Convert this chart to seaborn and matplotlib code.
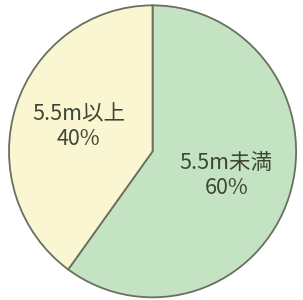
import matplotlib
matplotlib.use("Agg")
import matplotlib.pyplot as plt
import seaborn as sns

LABELS = ["5.5m未満", "5.5m以上"]
SHARES = [60, 40]
COLORS = ["#c4e3c3", "#faf6d2"]

sns.set_theme(style="white")
plt.rcParams["font.family"] = ["Noto Sans CJK JP", "DejaVu Sans"]

fig = plt.figure(figsize=(3.03, 3.0), dpi=100)
ax = fig.add_axes([0.025, 0.004, 0.957, 0.983])

wedges, texts, autotexts = ax.pie(
    SHARES,
    colors=COLORS,
    startangle=90,
    counterclock=False,
    autopct=lambda p: "",
    pctdistance=0.54,
    wedgeprops=dict(edgecolor="#6a6f60", linewidth=1.3),
)

for lab, share, t in zip(LABELS, SHARES, autotexts):
    t.set_text(f"{lab}\n{share}%")
    t.set_fontsize(15.5)
    t.set_color("#3f4636")
    t.set_linespacing(1.15)
    t.set_ha("center")
    t.set_va("center")

ax.set_aspect("auto")
ax.set_xlim(-1.01, 1.01)
ax.set_ylim(-1.01, 1.01)
ax.axis("off")

fig.savefig("out.png", dpi=100)
plt.close(fig)
